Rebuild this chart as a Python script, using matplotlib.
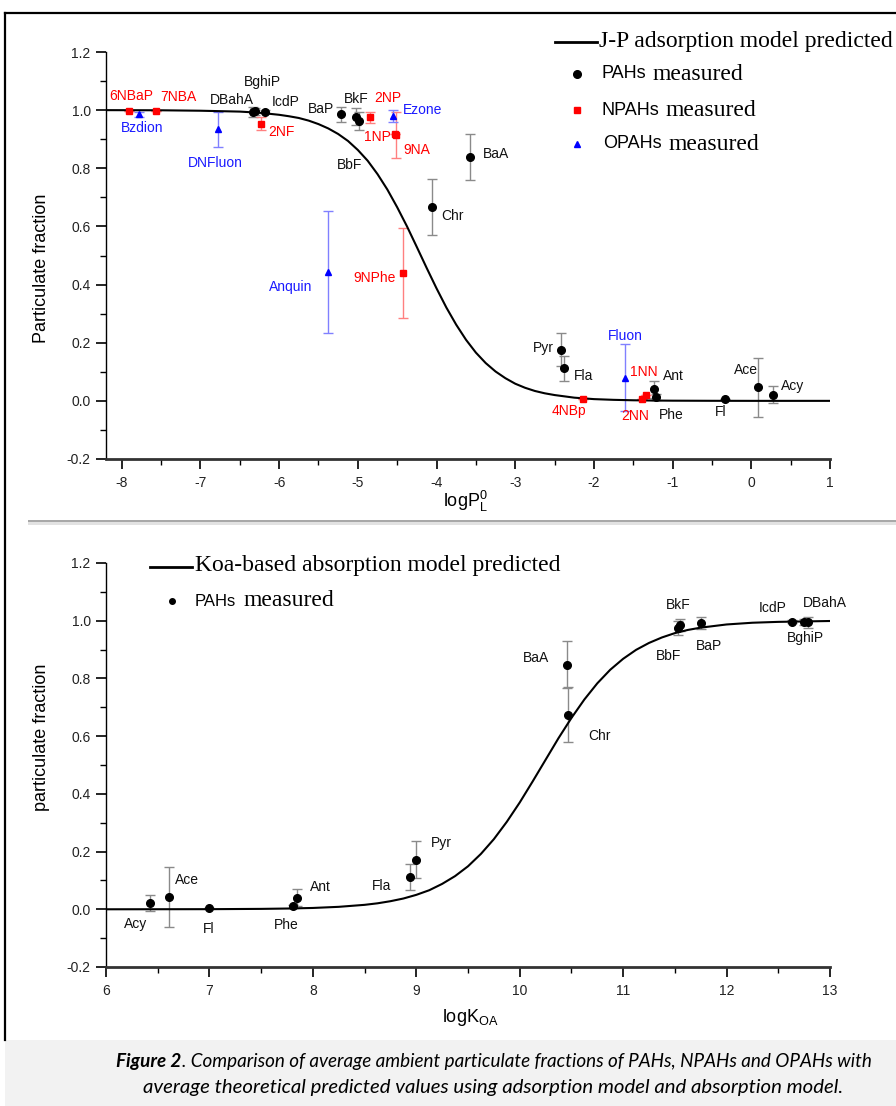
import matplotlib
matplotlib.use("Agg")
import matplotlib.pyplot as plt
from matplotlib.lines import Line2D
from matplotlib.patches import Rectangle
from matplotlib.ticker import MultipleLocator, FormatStrFormatter

# ------------------------------------------------------------------ data
# J-P adsorption model curve
jp_x = [-8.2, -7.5, -7.0, -6.5, -6.25, -6.0, -5.875, -5.75, -5.625, -5.5, -5.375, -5.25,
        -5.125, -5.0, -4.875, -4.75, -4.625, -4.5, -4.375, -4.25, -4.125, -4.0, -3.875,
        -3.75, -3.625, -3.5, -3.375, -3.25, -3.125, -3.0, -2.875, -2.75, -2.625, -2.5,
        -2.25, -2.0, -1.75, -1.5, -1.25, -1.0, -0.5, 0.0, 1.0]
jp_y = [1.000, 0.9995, 0.998, 0.995, 0.991, 0.984, 0.979, 0.973, 0.964, 0.952, 0.937, 0.918,
        0.894, 0.863, 0.826, 0.780, 0.727, 0.666, 0.600, 0.529, 0.457, 0.387, 0.321,
        0.262, 0.210, 0.166, 0.130, 0.101, 0.078, 0.059, 0.045, 0.034, 0.026, 0.020,
        0.011, 0.006, 0.0035, 0.002, 0.0011, 0.0006, 0.0002, 0.000, 0.000]

pah_names = ["DBahA", "BghiP", "IcdP", "BaP", "BkF", "BbF", "BaA", "Chr", "Pyr", "Fla",
             "Ant", "Phe", "Fl", "Ace", "Acy"]
pah_logpl = [-6.33, -6.31, -6.18, -5.22, -5.02, -4.98, -3.58, -4.06, -2.415, -2.38,
             -1.235, -1.205, -0.34, 0.085, 0.27]
pah_frac = [0.994, 0.996, 0.995, 0.986, 0.978, 0.963, 0.840, 0.667, 0.176, 0.113,
            0.040, 0.013, 0.005, 0.046, 0.021]
pah_err = [0.017, 0.012, 0.005, 0.026, 0.030, 0.030, 0.079, 0.095, 0.057, 0.043,
           0.030, 0.010, 0.0, 0.100, 0.030]

npah_names = ["6NBaP", "7NBA", "2NF", "2NP", "1NP", "9NA", "9NPhe", "4NBp", "2NN", "1NN"]
npah_logpl = [-7.91, -7.57, -6.23, -4.85, -4.53, -4.52, -4.42, -2.14, -1.39, -1.34]
npah_frac = [0.998, 0.998, 0.954, 0.975, 0.917, 0.915, 0.440, 0.005, 0.005, 0.020]
npah_err = [0.0, 0.0, 0.023, 0.018, 0.0, 0.078, 0.154, 0.0, 0.0, 0.0]

opah_names = ["Bzdion", "DNFluon", "Ezone", "Anquin", "Fluon"]
opah_logpl = [-7.78, -6.78, -4.55, -5.38, -1.60]
opah_frac = [0.986, 0.934, 0.979, 0.442, 0.080]
opah_err = [0.008, 0.060, 0.020, 0.210, 0.115]

# Koa-based absorption model curve
koa_x = [6.0, 7.0, 7.5, 7.75, 8.0, 8.25, 8.5, 8.625, 8.75, 8.875, 9.0, 9.125, 9.25, 9.375,
         9.5, 9.625, 9.75, 9.875, 10.0, 10.125, 10.25, 10.375, 10.5, 10.625, 10.75, 10.875,
         11.0, 11.125, 11.25, 11.375, 11.5, 11.625, 11.75, 12.0, 12.25, 12.5, 13.0]
koa_y = [0.000, 0.0004, 0.0014, 0.0026, 0.0046, 0.0085, 0.0154, 0.0207, 0.028, 0.0373,
         0.050, 0.066, 0.088, 0.115, 0.149, 0.192, 0.243, 0.303, 0.370, 0.443, 0.518,
         0.593, 0.663, 0.727, 0.783, 0.830, 0.868, 0.899, 0.923, 0.942, 0.957, 0.968,
         0.976, 0.987, 0.993, 0.996, 0.999]

pah2_names = ["Acy", "Ace", "Fl", "Phe", "Ant", "Fla", "Pyr", "BaA", "Chr", "BbF", "BkF",
              "BaP", "IcdP", "BghiP", "DBahA"]
pah2_logkoa = [6.43, 6.61, 7.00, 7.81, 7.85, 8.94, 9.00, 10.455, 10.465, 11.53, 11.55,
               11.75, 12.635, 12.75, 12.79]
pah2_frac = [0.022, 0.043, 0.0055, 0.011, 0.040, 0.113, 0.172, 0.848, 0.675, 0.975, 0.986,
             0.992, 0.996, 0.996, 0.994]
pah2_err = [0.027, 0.103, 0.0, 0.005, 0.030, 0.045, 0.063, 0.080, 0.096, 0.025, 0.020,
            0.020, 0.005, 0.010, 0.020]

# ------------------------------------------------------------------ layout (label offsets, px)
pah_off = [(-21, 12), (8, 29), (21, 10), (-20, 5), (0, 18), (-10, -44), (26, 3), (21, -9),
           (-18, 2), (20, -8), (19, 13), (15, -18), (-4, -13), (-12, 17), (20, 9)]
npah_off = [(2, 15), (23, 14), (20, -8), (18, 19), (-17, -3), (21, -15), (-29, -5),
            (-14, -12), (-7, -17), (-2, 23)]
opah_off = [(3, -14), (-2, -34), (29, 6), (-37, -15), (0, 42)]
pah2_off = [(-15, -21), (18, 17), (-1, -21), (-7, -19), (23, 11), (-29, -9), (25, 17),
            (-31, 7), (32, -22), (-9, -28), (-2, 20), (8, -23), (-20, 14), (1, -16), (17, 19)]

W, H = 896, 1106
plt.rcParams['axes.unicode_minus'] = False
SANS = ['Liberation Sans', 'DejaVu Sans']
SERIF = ['Liberation Serif', 'DejaVu Serif']
CAP = ['Lato', 'DejaVu Sans']
plt.rcParams['font.family'] = SANS
plt.rcParams['mathtext.fontset'] = 'custom'
plt.rcParams['mathtext.rm'] = 'Liberation Sans'

fig = plt.figure(figsize=(W / 100, H / 100), dpi=100)


def fx(x):
    return x / W


def fy(y):
    return 1 - y / H


def style_axes(ax, xmaj, xmin):
    for s in ('top', 'right'):
        ax.spines[s].set_visible(False)
    ax.spines['left'].set_linewidth(1.0)
    ax.spines['bottom'].set_linewidth(2.0)
    ax.spines['bottom'].set_color('#333333')
    ax.xaxis.set_major_locator(MultipleLocator(xmaj))
    ax.xaxis.set_minor_locator(MultipleLocator(xmin))
    ax.yaxis.set_major_locator(MultipleLocator(0.2))
    ax.yaxis.set_minor_locator(MultipleLocator(0.1))
    ax.yaxis.set_major_formatter(FormatStrFormatter('%.1f'))
    ax.tick_params(which='major', direction='out', length=7, width=1.2, labelsize=10,
                   labelcolor='#222222')
    ax.tick_params(which='minor', direction='out', length=4, width=1.0)
    ax.tick_params(axis='x', pad=5)
    ax.tick_params(axis='y', pad=4)
    ax.set_facecolor('none')


# ------------------------------------------------------------------ top panel
ax1 = fig.add_axes([fx(106), fy(459), fx(830 - 106), (459 - 52) / H])
ax1.set_xlim(-8.2, 1.0)
ax1.set_ylim(-0.2, 1.2)
style_axes(ax1, 1, 0.5)
ax1.xaxis.set_major_formatter(FormatStrFormatter('%d'))

ax1.plot(jp_x, jp_y, color='black', lw=1.5, zorder=3, solid_joinstyle='round')
ax1.errorbar(pah_logpl, pah_frac, yerr=pah_err, fmt='none', ecolor='#8a8a8a',
             elinewidth=1.0, capsize=3.5, capthick=1.0, zorder=2)
ax1.errorbar(npah_logpl, npah_frac, yerr=npah_err, fmt='none', ecolor='#ff8080',
             elinewidth=1.0, capsize=3.5, capthick=1.0, zorder=2)
ax1.errorbar(opah_logpl, opah_frac, yerr=opah_err, fmt='none', ecolor='#8080ff',
             elinewidth=1.0, capsize=3.5, capthick=1.0, zorder=2)
ax1.plot(pah_logpl, pah_frac, 'o', color='black', ms=5.5, zorder=4)
ax1.plot(npah_logpl, npah_frac, 's', color='#ff0000', ms=4.5, zorder=4)
ax1.plot(opah_logpl, opah_frac, '^', color='#0000ff', ms=5, zorder=4)

for names, xs, ys, offs, col in [
        (pah_names, pah_logpl, pah_frac, pah_off, '#111111'),
        (npah_names, npah_logpl, npah_frac, npah_off, '#ff0000'),
        (opah_names, opah_logpl, opah_frac, opah_off, '#1a1aff')]:
    for n, x, y, o in zip(names, xs, ys, offs):
        ax1.annotate(n, (x, y), xytext=o, textcoords='offset pixels', ha='center',
                     va='center', fontsize=10, color=col, zorder=5)

# ------------------------------------------------------------------ bottom panel
ax2 = fig.add_axes([fx(106), fy(967), fx(830 - 106), (967 - 563) / H])
ax2.set_xlim(6, 13)
ax2.set_ylim(-0.2, 1.2)
style_axes(ax2, 1, 0.5)
ax2.xaxis.set_major_formatter(FormatStrFormatter('%d'))

ax2.plot(koa_x, koa_y, color='black', lw=1.5, zorder=3, solid_joinstyle='round')
ax2.errorbar(pah2_logkoa, pah2_frac, yerr=pah2_err, fmt='none', ecolor='#8a8a8a',
             elinewidth=1.0, capsize=3.5, capthick=1.0, zorder=2)
ax2.plot(pah2_logkoa, pah2_frac, 'o', color='black', ms=5.5, zorder=4)
for n, x, y, o in zip(pah2_names, pah2_logkoa, pah2_frac, pah2_off):
    ax2.annotate(n, (x, y), xytext=o, textcoords='offset pixels', ha='center',
                 va='center', fontsize=10, color='#111111', zorder=5)

# ------------------------------------------------------------------ axis titles
fig.text(fx(42), fy(268), 'Particulate fraction', rotation=90, ha='center', va='center',
         fontsize=13)
fig.text(fx(42), fy(737), 'particulate fraction', rotation=90, ha='center', va='center',
         fontsize=13)
fig.text(fx(465), fy(501), r'logP$_\mathregular{L}^\mathregular{0}$', ha='center',
         va='center', fontsize=13)
fig.text(fx(470), fy(1017), r'logK$_\mathregular{OA}$', ha='center', va='center',
         fontsize=13)

# ------------------------------------------------------------------ legends (manual)
renderer = fig.canvas.get_renderer()


def two_part(x, y, a, b, fsa, fsb, gap=7):
    t = fig.text(fx(x), fy(y), a, ha='left', va='center', fontsize=fsa, family=SANS)
    w = t.get_window_extent(renderer).width
    fig.text(fx(x + w + gap), fy(y), b, ha='left', va='center', fontsize=fsb, family=SERIF)


fig.add_artist(Line2D([fx(555), fx(597)], [fy(42), fy(42)], color='black', lw=2))
fig.text(fx(599), fy(41), 'J-P adsorption model predicted', ha='left', va='center',
         fontsize=17, family=SERIF)
fig.add_artist(Line2D([fx(577)], [fy(74)], marker='o', color='black', ms=5.5))
two_part(601, 74, 'PAHs', 'measured', 13, 17)
fig.add_artist(Line2D([fx(577)], [fy(110)], marker='s', color='#ff0000', ms=4.5))
two_part(601, 110, 'NPAHs', 'measured', 13, 17)
fig.add_artist(Line2D([fx(577)], [fy(144)], marker='^', color='#0000ff', ms=5))
two_part(603, 144, 'OPAHs', 'measured', 13, 17)

fig.add_artist(Line2D([fx(150), fx(192)], [fy(567), fy(567)], color='black', lw=2))
fig.text(fx(195), fy(566), 'Koa-based absorption model predicted', ha='left', va='center',
         fontsize=17, family=SERIF)
fig.add_artist(Line2D([fx(172)], [fy(601)], marker='o', color='black', ms=4))
two_part(195, 601, 'PAHs', 'measured', 12, 17)

# ------------------------------------------------------------------ frame, separator, caption
fig.add_artist(Line2D([fx(5), fx(5)], [fy(13), fy(1040)], color='black', lw=1.6))
fig.add_artist(Line2D([fx(5), 1.0], [fy(13), fy(13)], color='black', lw=1.6))
fig.add_artist(Rectangle((fx(28), fy(522)), 1 - fx(28), 2.5 / H, transform=fig.transFigure,
                         facecolor='#a8a8a8', edgecolor='none'))
fig.add_artist(Rectangle((fx(28), fy(525)), 1 - fx(28), 3 / H, transform=fig.transFigure,
                         facecolor='#e2e2e2', edgecolor='none'))
fig.add_artist(Rectangle((fx(5), 0), 1 - fx(5), (H - 1040) / H, transform=fig.transFigure,
                         facecolor='#f2f2f2', edgecolor='none'))


def caption_line(yc, bold, rest, target_w, center):
    fs = 12
    tb = fig.text(0, 0, bold, fontsize=fs, family=CAP, style='italic', weight='bold')
    tr = fig.text(0, 0, rest, fontsize=fs, family=CAP, style='italic')
    wb = tb.get_window_extent(renderer).width if bold else 0
    wr = tr.get_window_extent(renderer).width
    sc = target_w / (wb + wr)
    fs2 = fs * sc
    tb.set_fontsize(fs2)
    tr.set_fontsize(fs2)
    wb = tb.get_window_extent(renderer).width if bold else 0
    wr = tr.get_window_extent(renderer).width
    x0 = center - (wb + wr) / 2
    tb.set_position((fx(x0), fy(yc)))
    tb.set_va('center')
    tr.set_position((fx(x0 + wb), fy(yc)))
    tr.set_va('center')


caption_line(1062, 'Figure 2',
             '. Comparison of average ambient particulate fractions of PAHs, NPAHs and OPAHs with',
             752, 494)
caption_line(1087, '',
             'average theoretical predicted values using adsorption model and absorption model.',
             700, 493)

fig.savefig('out.png', dpi=100)
